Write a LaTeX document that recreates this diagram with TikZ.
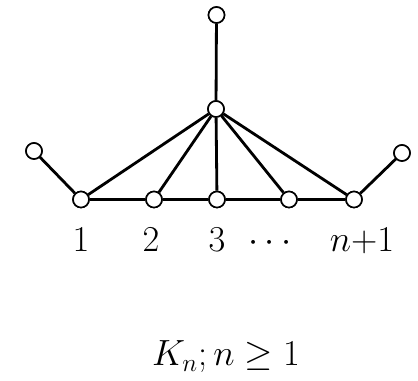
\documentclass[tikz,border=0pt]{standalone}
\tikzset{
  vtx/.style={circle, draw, fill=white, line width=0.9pt, inner sep=0pt, minimum size=0.32cm},
  edge/.style={line width=1.6pt},
  lbl/.style={font=\huge, anchor=base, inner sep=0pt}
}
\begin{document}
\begin{tikzpicture}
    \useasboundingbox (0,0) rectangle (8.36,7.62);
    % vertices
    \node[vtx] (top) at (4.33,7.32) {};
    \node[vtx] (hub) at (4.32,5.44) {};
    \node[vtx] (pl) at (0.68,4.60) {};
    \node[vtx] (pr) at (8.04,4.56) {};
    \foreach \i/\x in {1/1.62, 2/3.08, 3/4.34, 4/5.78, 5/7.08} {
        \node[vtx] (b\i) at (\x,3.63) {};
      }
    % edges
    \draw[line width=1.3pt] (b1) -- (b2) -- (b3) -- (b4) -- (b5);
    \draw[edge] (top) -- (hub);
    \foreach \i in {1,...,5} {
        \draw[edge] (hub) -- (b\i);
      }
    \draw[edge] (pl) -- (b1);
    \draw[edge] (pr) -- (b5);
    % redraw vertices on top
    \foreach \n in {top,hub,pl,pr,b1,b2,b3,b4,b5} {
        \node[vtx] at (\n) {};
      }
    % labels
    \node[lbl] (l1) at (1.62,2.58) {$1$};
    \node[lbl] (l2) at (3.02,2.58) {$2$};
    \node[lbl] (l3) at (4.34,2.58) {$3$};
    \node[lbl] (l4) at (5.40,2.58) {$\cdots$};
    \node[lbl] (l5) at (7.24,2.58) {$n{+}1$};
    \node[lbl] (cap) at (4.52,0.30) {$K_n; n\geq 1$};
  \end{tikzpicture}
\end{document}
